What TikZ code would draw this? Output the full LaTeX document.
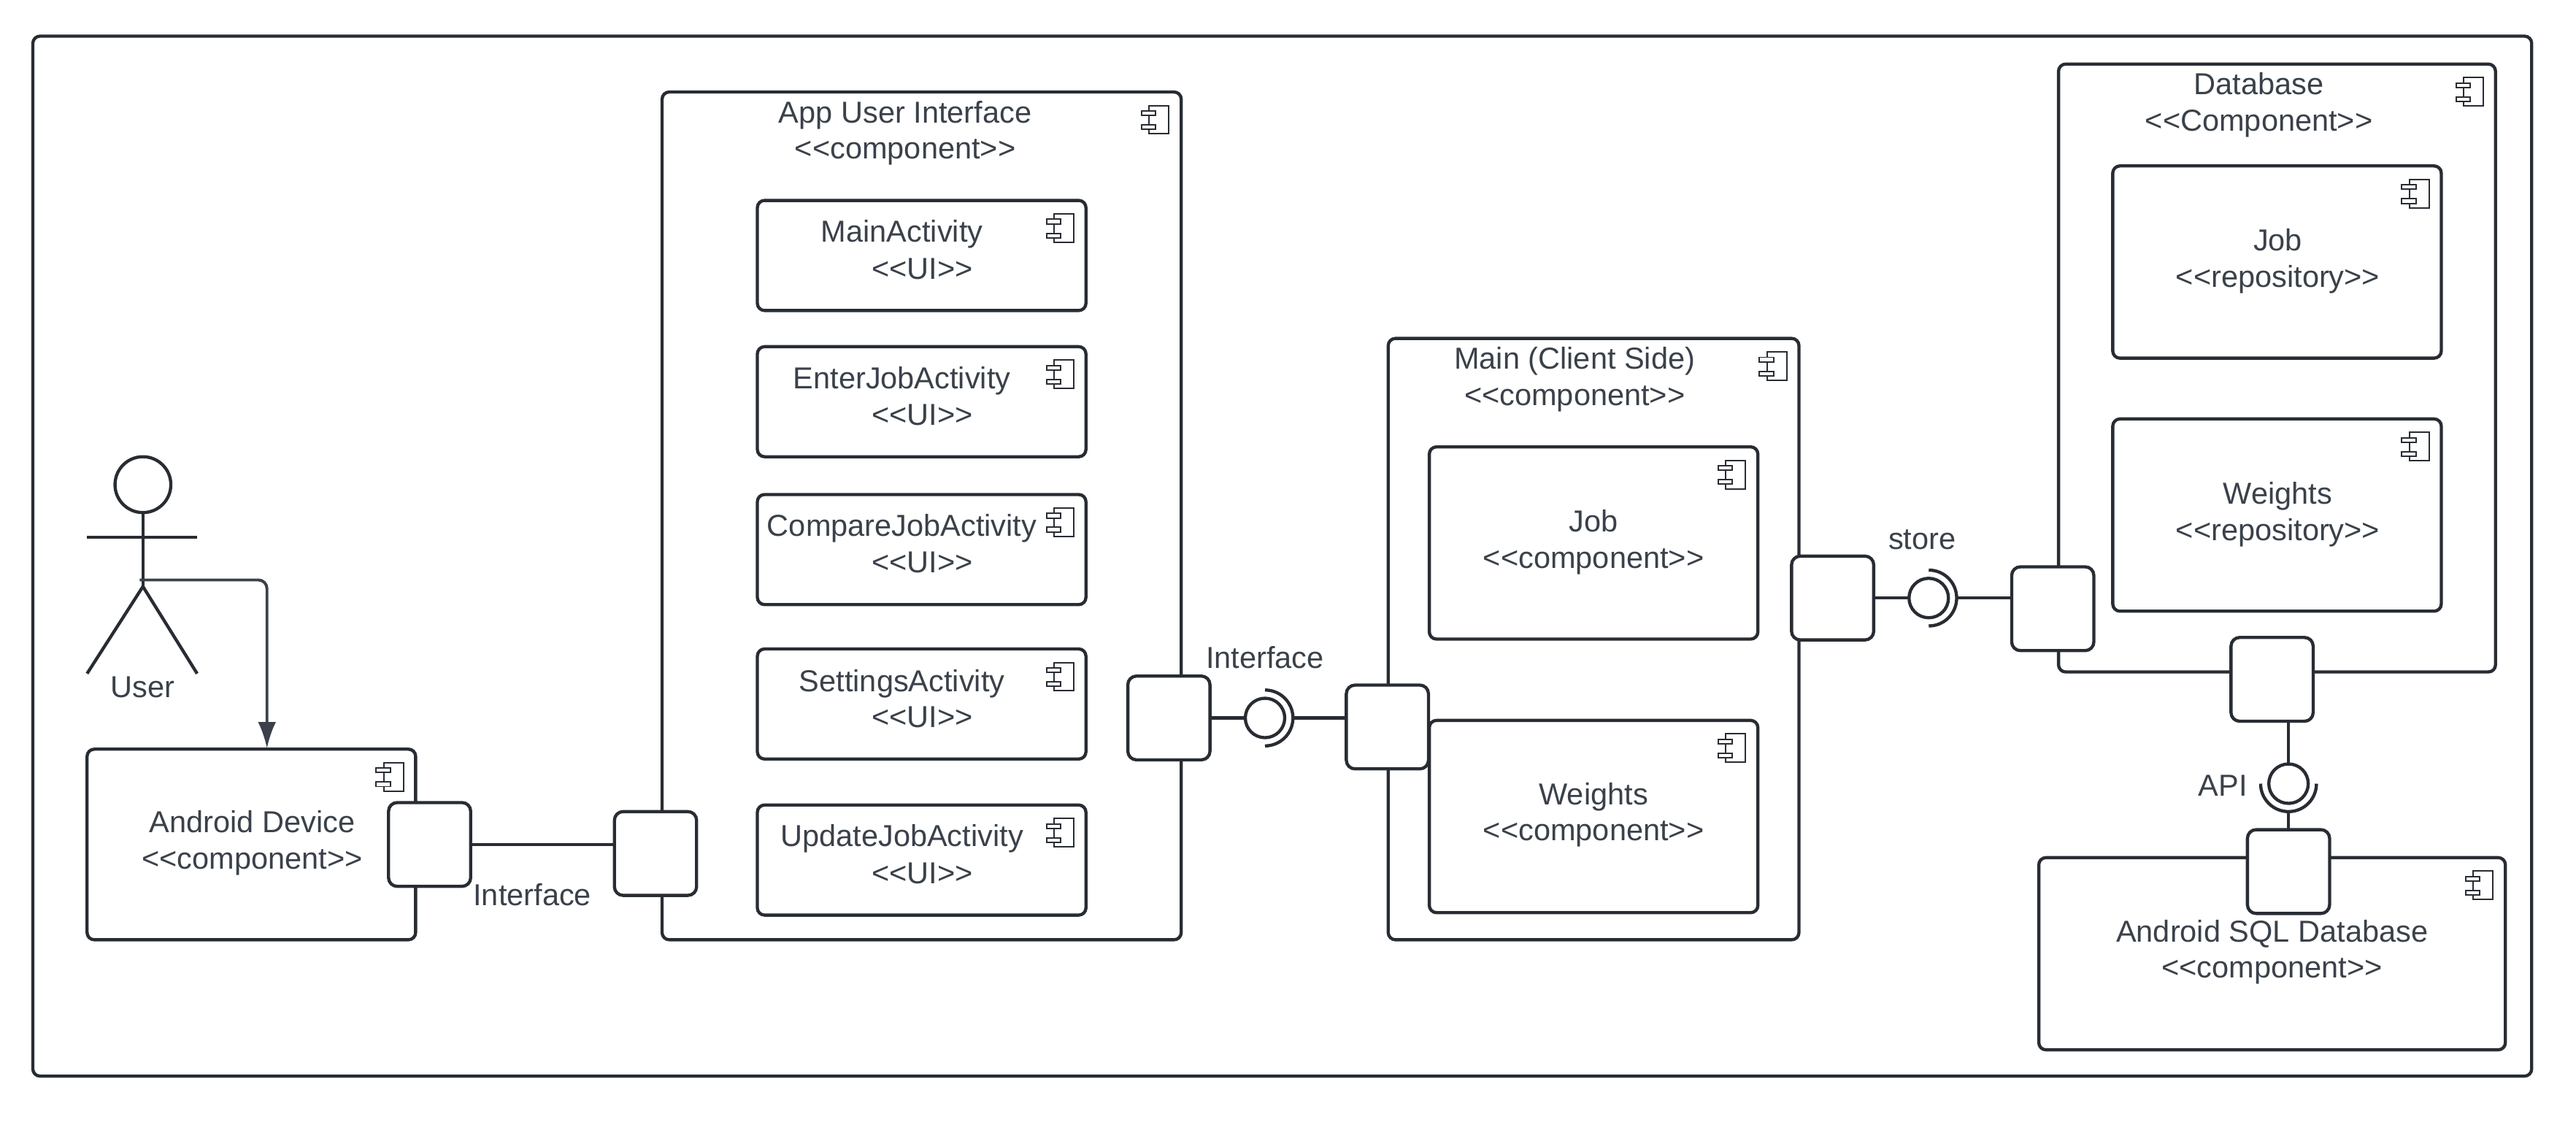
\documentclass[tikz,border=0pt]{standalone}
\usepackage{fontspec}
\setmainfont{Liberation Sans}
\usetikzlibrary{positioning,arrows.meta,calc}
\definecolor{inkline}{HTML}{282C33}
\definecolor{inktext}{HTML}{3A414A}
\tikzset{
    component/.style = {
        draw=inkline,
        fill=white,
        shape=rectangle,
        line width=1.1pt,
        rounded corners=2.5pt,
        outer sep=0pt,
        path picture={
            \draw[inkline, line width=.5pt, sharp corners]
                ([shift={(-.39cm,-.165cm)}]path picture bounding box.north east) rectangle
                ([shift={(-.15cm,-.51cm)}]path picture bounding box.north east);
            \draw[inkline, fill=white, line width=.5pt, sharp corners]
                ([shift={(-.48cm,-.23cm)}]path picture bounding box.north east) rectangle
                ([shift={(-.31cm,-.285cm)}]path picture bounding box.north east)
                ([shift={(-.48cm,-.40cm)}]path picture bounding box.north east) rectangle
                ([shift={(-.31cm,-.455cm)}]path picture bounding box.north east);
        }
    },
    uicomp/.style = {
        component,
        minimum width=4cm,
        minimum height=1.34cm
    },
    subcomp/.style = {
        component,
        minimum width=4cm,
        minimum height=2.34cm
    },
    frameline/.style = {
        draw=inkline,
        shape=rectangle,
        line width=1.1pt,
        rounded corners=2.5pt,
        outer sep=0pt,
        minimum width=30.42cm,
        minimum height=12.66cm
    },
    port/.style = {
        draw=inkline,
        fill=white,
        shape=rectangle,
        line width=1.1pt,
        rounded corners=3pt,
        outer sep=0pt,
        minimum width=1cm,
        minimum height=1.02cm
    },
    ball/.style = {
        draw=inkline,
        fill=white,
        shape=circle,
        line width=1.1pt,
        outer sep=0pt,
        minimum size=.48cm,
        inner sep=0pt
    },
    head/.style = {
        draw=inkline,
        shape=circle,
        line width=1.1pt,
        outer sep=0pt,
        minimum size=.68cm,
        inner sep=0pt
    },
    wire/.style = {
        draw=inkline,
        line width=1.1pt
    },
    flow/.style = {
        draw=inktext,
        line width=1pt,
        rounded corners=3pt,
        -{Latex[length=3.2mm,width=2.2mm]}
    },
    txt/.style = {
        text=inktext,
        align=center,
        inner sep=0pt,
        font=\fontsize{10.5}{12.6}\selectfont
    },
}
\begin{document}
\begin{tikzpicture}[x=.2mm, y=-.2mm]
    \useasboundingbox (0,0) rectangle (1568,687.4);

    \node[frameline] (frame) at (780.5,338.5) {};

    \node[head] (userhead) at (87,295) {};
    \coordinate (userhip) at (87,357);
    \coordinate (userwaist) at (85,353);
    \coordinate (userarml) at (53,327);
    \coordinate (userarmr) at (120,327);
    \coordinate (userlegl) at (53,410);
    \coordinate (userlegr) at (120,410);
    \node[txt] (userlabel) at (87,418.5) {User};

    \node[component, minimum width=4cm, minimum height=2.32cm] (andev) at (153,514) {};
    \node[component, minimum width=6.32cm, minimum height=10.32cm] (appui) at (561,314) {};
    \node[uicomp] (mainact) at (561,155.5) {};
    \node[uicomp] (enteract) at (561,244.5) {};
    \node[uicomp] (compareact) at (561,334.5) {};
    \node[uicomp] (settingsact) at (561,428.5) {};
    \node[uicomp] (updateact) at (561,523.5) {};
    \node[component, minimum width=5cm, minimum height=7.32cm] (mainside) at (970,389) {};
    \node[subcomp] (jobcomp) at (970,330.5) {};
    \node[subcomp] (weightcomp) at (970,497) {};
    \node[component, minimum width=5.32cm, minimum height=7.4cm] (database) at (1386,224) {};
    \node[subcomp] (jobrepo) at (1386,159.5) {};
    \node[subcomp] (weightrepo) at (1386,313.5) {};
    \node[component, minimum width=5.68cm, minimum height=2.34cm] (sqldb) at (1383,580.5) {};

    \node[txt] (andevtext) at (153.5,513) {Android Device\\<{}<component>{}>};
    \node[txt] (appuitext) at (551,81) {App User Interface\\<{}<component>{}>};
    \node[txt] (mainacttext) at (549,142.5) {MainActivity};
    \node[txt] (mainactui) at (561.5,163.5) {<{}<UI>{}>};
    \node[txt] (enteracttext) at (549,232) {EnterJobActivity};
    \node[txt] (enteractui) at (561.5,252.5) {<{}<UI>{}>};
    \node[txt] (compareacttext) at (549,321.5) {CompareJobActivity};
    \node[txt] (compareactui) at (561.5,342.5) {<{}<UI>{}>};
    \node[txt] (settingsacttext) at (549,416) {SettingsActivity};
    \node[txt] (settingsactui) at (561.5,436.5) {<{}<UI>{}>};
    \node[txt] (updateacttext) at (549,510.5) {UpdateJobActivity};
    \node[txt] (updateactui) at (561.5,531.5) {<{}<UI>{}>};
    \node[txt] (mainsidetext) at (958.5,231) {Main (Client Side)\\<{}<component>{}>};
    \node[txt] (jobcomptext) at (970,330) {Job\\<{}<component>{}>};
    \node[txt] (weightcomptext) at (970,496) {Weights\\<{}<component>{}>};
    \node[txt] (databasetext) at (1375,64) {Database\\<{}<Component>{}>};
    \node[txt] (jobrepotext) at (1386.5,159) {Job\\<{}<repository>{}>};
    \node[txt] (weightrepotext) at (1386.5,313) {Weights\\<{}<repository>{}>};
    \node[txt] (sqldbtext) at (1383,579.5) {Android SQL Database\\<{}<component>{}>};

    \node[port] (andevport) at (261.5,514) {};
    \node[port] (appuiin) at (399,519.5) {};
    \node[port] (appuiout) at (711.5,437) {};
    \node[port] (mainin) at (844.5,442.5) {};
    \node[port] (mainout) at (1115.5,364) {};
    \node[port] (dbin) at (1249.5,370.5) {};
    \node[port] (dbout) at (1383,413.5) {};
    \node[port] (sqlport) at (1393,530.5) {};

    \node[ball] (uiball) at (770,437) {};
    \node[ball] (storeball) at (1174,364) {};
    \node[ball] (apiball) at (1393,477) {};
    \coordinate (uisocket) at (787,437);
    \coordinate (storesocket) at (1191,364);
    \coordinate (apisocket) at (1393,494);
    \coordinate (andevin) at (162.5,455.5);

    \node[txt] (linklabel) at (324,544.5) {Interface};
    \node[txt] (uilabel) at (770,400) {Interface};
    \node[txt] (storelabel) at (1170,328.5) {store};
    \node[txt] (apilabel) at (1353,478) {API};

    \path[wire] (userhead.south) -- (userhip);
    \path[wire] (userarml) -- (userarmr);
    \path[wire] (userlegl) -- (userhip) -- (userlegr);
    \path[flow] (userwaist) -| (andevin);

    \path[wire] (andevport.east) -- (andevport.east -| appuiin.west);

    \path[wire] (appuiout.east) -- (uiball.west);
    \path[wire] (uisocket) arc[start angle=0, end angle=90, radius=.34cm];
    \path[wire] (uisocket) arc[start angle=0, end angle=-90, radius=.34cm];
    \path[wire] (uisocket) -- (uisocket -| mainin.west);

    \path[wire] (mainout.east) -- (storeball.west);
    \path[wire] (storesocket) arc[start angle=0, end angle=90, radius=.34cm];
    \path[wire] (storesocket) arc[start angle=0, end angle=-90, radius=.34cm];
    \path[wire] (storesocket) -- (storesocket -| dbin.west);

    \path[wire] (apiball.north |- dbout.south) -- (apiball.north);
    \path[wire] (apisocket) arc[start angle=270, end angle=180, radius=.34cm];
    \path[wire] (apisocket) arc[start angle=270, end angle=360, radius=.34cm];
    \path[wire] (apisocket) -- (sqlport.north);
\end{tikzpicture}
\end{document}
